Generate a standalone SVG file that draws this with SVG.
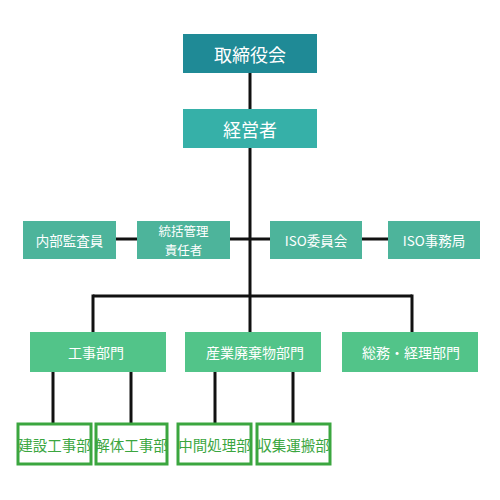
<svg xmlns="http://www.w3.org/2000/svg" width="500" height="500" viewBox="0 0 500 500">
<style>
text{font-family:"Noto Sans CJK JP","Noto Sans CJK SC",sans-serif;text-anchor:middle;dominant-baseline:central}
.w{fill:#fff;font-size:13.5px}
.s{fill:#fff;font-size:12.5px}
.m{fill:#fff;font-size:14px}
.t{fill:#fff;font-size:18px}
.g{fill:#3ba63f;font-size:14.5px}
.c line{stroke:#111;stroke-width:3}
.ob{fill:#fff;stroke:#3ba63f;stroke-width:3}
</style>
<rect width="500" height="500" fill="#fff"/>
<g class="c" id="connectors">
<line x1="250" y1="73" x2="250" y2="109"/>
<line x1="250" y1="148" x2="250" y2="332"/>
<line x1="116" y1="239" x2="388" y2="239"/>
<line x1="93" y1="296" x2="412" y2="296"/>
<line x1="93" y1="294.5" x2="93" y2="332"/>
<line x1="412" y1="294.5" x2="412" y2="332"/>
<line x1="53" y1="372" x2="53" y2="423"/>
<line x1="131" y1="372" x2="131" y2="423"/>
<line x1="215" y1="372" x2="215" y2="423"/>
<line x1="293" y1="372" x2="293" y2="423"/>
</g>
<g id="board"><rect x="183" y="34" width="134" height="39" fill="#1f8a96"/><text class="t" x="250" y="54">取締役会</text></g>
<g id="manager"><rect x="183" y="109" width="134" height="39" fill="#36b0a8"/><text class="t" x="250" y="129">経営者</text></g>
<g id="audit"><rect x="23" y="221" width="93" height="38" fill="#4db49b"/><text class="w" x="69.5" y="240">内部監査員</text></g>
<g id="supervisor"><rect x="137" y="221" width="93" height="38" fill="#4db49b"/><text class="s" x="183.5" y="230.8">統括管理</text><text class="s" x="183.5" y="249.2">責任者</text></g>
<g id="iso-committee"><rect x="270" y="221" width="92" height="38" fill="#4db49b"/><text class="w" x="316" y="240">ISO委員会</text></g>
<g id="iso-office"><rect x="388" y="221" width="92" height="38" fill="#4db49b"/><text class="w" x="434" y="240">ISO事務局</text></g>
<g id="construction"><rect x="30" y="332" width="136" height="40" fill="#52c489"/><text class="m" x="96" y="352">工事部門</text></g>
<g id="waste"><rect x="185" y="332" width="136" height="40" fill="#52c489"/><text class="m" x="255" y="352">産業廃棄物部門</text></g>
<g id="general"><rect x="342" y="332" width="136" height="40" fill="#52c489"/><text class="m" x="411" y="352">総務・経理部門</text></g>
<g id="build"><rect class="ob" x="18" y="424" width="73" height="40"/><text class="g" x="54.5" y="444">建設工事部</text></g>
<g id="demolish"><rect class="ob" x="96" y="424" width="71" height="40"/><text class="g" x="131.5" y="444">解体工事部</text></g>
<g id="process"><rect class="ob" x="178" y="424" width="73" height="40"/><text class="g" x="214.5" y="444">中間処理部</text></g>
<g id="collect"><rect class="ob" x="257" y="424" width="73" height="40"/><text class="g" x="293.5" y="444">収集運搬部</text></g>
</svg>
